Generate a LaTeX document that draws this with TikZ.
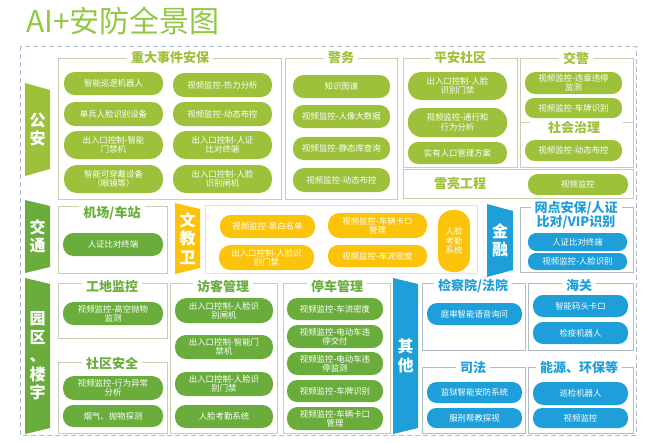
\documentclass[tikz,border=0pt]{standalone}
\usepackage{fontspec}
\setmainfont{Noto Sans CJK SC}
\definecolor{lg}{HTML}{9DC13B}
\definecolor{mg}{HTML}{6AAD3D}
\definecolor{yl}{HTML}{FCC30B}
\definecolor{bl}{HTML}{1E9FDA}
\definecolor{ttl}{HTML}{92C842}
\definecolor{frm}{HTML}{C8CFAE}
\definecolor{frmy}{HTML}{F5E2A6}
\definecolor{frmb}{HTML}{AFBCC8}
\definecolor{dsh}{HTML}{B0B9D0}
\tikzset{
  pill/.style={fill=#1, text=white, align=center, inner sep=0pt,
    font=\fontsize{8.4}{9.4}\selectfont},
  secbox/.style={draw=#1, line width=0.8pt},
  hdr/.style={fill=white, text=#1, inner xsep=4pt, inner ysep=1pt,
    font=\fontsize{13}{14}\selectfont\bfseries},
  lbl/.style={text=white, align=center, inner sep=0pt,
    font=\fontsize{16}{18.5}\selectfont\bfseries},
}
% pill: x1 y1 x2 y2 colour name {text}
\newcommand\pl[6]{\node[pill=#5, minimum width={#3-#1}, minimum height={#4-#2},
  rounded corners={0.46*min(#3-#1,#4-#2)}] (#6) at ({(#1+#3)/2},{(#2+#4)/2})}
\begin{document}
\begin{tikzpicture}[x=1pt,y=-1pt]
\useasboundingbox (0,0) rectangle (650,442);
\fill[white] (0,0) rectangle (650,442);
% title
\node[anchor=west, text=ttl, inner sep=0pt, font=\fontsize{30}{32}\selectfont] (title) at (26,21) {AI+安防全景图};
% outer dashed frame
\draw[dsh, line width=0.8pt, dash pattern=on 5pt off 3pt] (20,46) rectangle (636,435);

% ---------- left labels ----------
\fill[lg] (25,83) -- (50,90) -- (50,169) -- (25,176) -- cycle;
\node[lbl] (lgongan) at (37.5,129.5) {公\\安};
\fill[mg] (25,200) -- (50,206) -- (50,267) -- (25,273) -- cycle;
\node[lbl] (ljiaotong) at (37.5,236.5) {交\\通};
\fill[mg] (25,278) -- (50,284) -- (50,428) -- (25,434) -- cycle;
\node[lbl] (lyuanqu) at (37.5,356) {园\\区\\、\\楼\\宇};
\fill[yl] (175,203) -- (200,209) -- (200,268) -- (175,274) -- cycle;
\node[lbl] (lwenjiao) at (187.5,238.5) {文\\教\\卫};
\fill[bl] (487,204) -- (513,211) -- (513,270) -- (487,277) -- cycle;
\node[lbl] (ljinrong) at (500,240.5) {金\\融};
\fill[bl] (393,278) -- (418,284) -- (418,428) -- (393,434) -- cycle;
\node[lbl] (lqita) at (405.5,356) {其\\他};

% ---------- 公安 ----------
\draw[secbox=frm] (58,58) rectangle (281,199);
\node[hdr=lg] (hzd) at (170,58) {重大事件安保};
\pl{64}{72}{163}{95}{lg}{a1} {智能巡逻机器人};
\pl{173}{73}{272}{97}{lg}{a2} {视频监控-热力分析};
\pl{64}{102}{163}{126}{lg}{a3} {单兵人脸识别设备};
\pl{173}{102}{272}{126}{lg}{a4} {视频监控-动态布控};
\pl{64}{131}{163}{159}{lg}{a5} {出入口控制-智能\\门禁机};
\pl{173}{131}{272}{159}{lg}{a6} {出入口控制-人证\\比对终端};
\pl{64}{165}{163}{193}{lg}{a7} {智能可穿戴设备\\（眼镜等）};
\pl{173}{165}{272}{193}{lg}{a8} {出入口控制-人脸\\识别闸机};

\draw[secbox=frm] (285,58) rectangle (397,199);
\node[hdr=lg] (hjw) at (341,58) {警务};
\pl{293}{75}{390}{98}{lg}{b1} {知识图谱};
\pl{293}{105}{390}{128}{lg}{b2} {视频监控-人像大数据};
\pl{293}{137}{390}{160}{lg}{b3} {视频监控-静态库查询};
\pl{293}{168}{390}{192}{lg}{b4} {视频监控-动态布控};

\draw[secbox=frm] (403,58) rectangle (517,167);
\node[hdr=lg] (hpa) at (460,58) {平安社区};
\pl{408}{72}{507}{100}{lg}{c1} {出入口控制-人脸\\识别门禁};
\pl{408}{108}{507}{137}{lg}{c2} {视频监控-通行和\\行为分析};
\pl{408}{142}{507}{164}{lg}{c3} {实有人口管理方案};

\draw[secbox=frm] (520,58) rectangle (633,167);
\node[hdr=lg] (hjj) at (576,58) {交警};
\pl{525}{72}{622}{94}{lg}{d1} {视频监控-违章违停\\监测};
\pl{525}{98}{622}{118}{lg}{d2} {视频监控-车牌识别};
\draw[frm, line width=0.8pt] (520,122) -- (530,122);
\draw[frm, line width=0.8pt] (623,122) -- (633,122);
\node[hdr=lg] (hsh) at (574,128) {社会治理};
\pl{525}{140}{622}{161}{lg}{d3} {视频监控-动态布控};

\draw[secbox=frm] (403,169) rectangle (633,198);
\node[hdr=lg] (hxl) at (460,183.5) {雪亮工程};
\pl{528}{174}{628}{195}{lg}{e1} {视频监控};

% ---------- 交通 / 文教卫 / 金融 ----------
\draw[secbox=frm] (58,206) rectangle (167,273);
\node[hdr=mg] (hjc) at (112,213) {机场/车站};
\pl{63}{233}{163}{256}{mg}{f1} {人证比对终端};

\draw[secbox=frmy] (205,205) rectangle (477,273);
\pl{220}{215}{315}{238}{yl}{g1} {视频监控-黑白名单};
\pl{219}{245}{314}{270}{yl}{g2} {出入口控制-人脸识\\别门禁};
\pl{328}{213}{427}{238}{yl}{g3} {视频监控-车辆卡口\\管理};
\pl{328}{245}{427}{267}{yl}{g4} {视频监控-车流密度};
\pl{438}{210}{470}{272}{yl}{g5} {人脸\\考勤\\系统};

\draw[secbox=frmb] (520,207) rectangle (633,272);
\node[hdr=bl, align=center, font=\fontsize{13}{13.5}\selectfont\bfseries] (hwd) at (576,215) {网点安保/人证\\比对/VIP识别};
\pl{528}{233}{627}{251}{bl}{h1} {人证比对终端};
\pl{528}{253}{627}{270}{bl}{h2} {视频监控-人脸识别};

% ---------- 园区、楼宇 ----------
\draw[secbox=frm] (58,283) rectangle (167,338);
\node[hdr=mg] (hgd) at (112,286) {工地监控};
\pl{63}{302}{163}{325}{mg}{i1} {视频监控-高空抛物\\监测};

\draw[secbox=frm] (58,362) rectangle (167,433);
\node[hdr=mg] (hsq) at (112,364) {社区安全};
\pl{63}{376}{163}{400}{mg}{i2} {视频监控-行为异常\\分析};
\pl{63}{405}{163}{427}{mg}{i3} {烟气、抛物探测};

\draw[secbox=frm] (170,283) rectangle (277,433);
\node[hdr=mg] (hfk) at (223,286) {访客管理};
\pl{175}{298}{273}{323}{mg}{j1} {出入口控制-人脸识\\别闸机};
\pl{175}{335}{273}{359}{mg}{j2} {出入口控制-智能门\\禁机};
\pl{175}{372}{273}{396}{mg}{j3} {出入口控制-人脸识\\别门禁};
\pl{175}{405}{273}{428}{mg}{j4} {人脸考勤系统};

\draw[secbox=frm] (283,283) rectangle (390,433);
\node[hdr=mg] (htc) at (337,286) {停车管理};
\pl{287}{298}{383}{320}{mg}{k1} {视频监控-车流密度};
\pl{287}{325}{383}{348}{mg}{k2} {视频监控-电动车违\\停交付};
\pl{287}{352}{383}{375}{mg}{k3} {视频监控-电动车违\\停监测};
\pl{287}{380}{383}{402}{mg}{k4} {视频监控-车牌识别};
\pl{287}{407}{383}{430}{mg}{k5} {视频监控-车辆卡口\\管理};

% ---------- 其他 ----------
\draw[secbox=frmb] (422,283) rectangle (525,350);
\node[hdr=bl] (hjcy) at (473,286) {检察院/法院};
\pl{427}{303}{522}{325}{bl}{m1} {庭审智能语音询问};

\draw[secbox=frmb] (528,283) rectangle (633,350);
\node[hdr=bl] (hhg) at (579,286) {海关};
\pl{533}{295}{628}{317}{bl}{m2} {智能码头卡口};
\pl{533}{322}{628}{344}{bl}{m3} {检疫机器人};

\draw[secbox=frmb] (422,367) rectangle (525,433);
\node[hdr=bl] (hsf) at (473,368) {司法};
\pl{427}{382}{522}{403}{bl}{m4} {监狱智能安防系统};
\pl{427}{408}{522}{428}{bl}{m5} {服刑帮教探视};

\draw[secbox=frmb] (528,367) rectangle (633,433);
\node[hdr=bl] (hny) at (579,368) {能源、环保等};
\pl{533}{382}{628}{405}{bl}{m6} {巡检机器人};
\pl{533}{408}{628}{428}{bl}{m7} {视频监控};
\end{tikzpicture}
\end{document}
